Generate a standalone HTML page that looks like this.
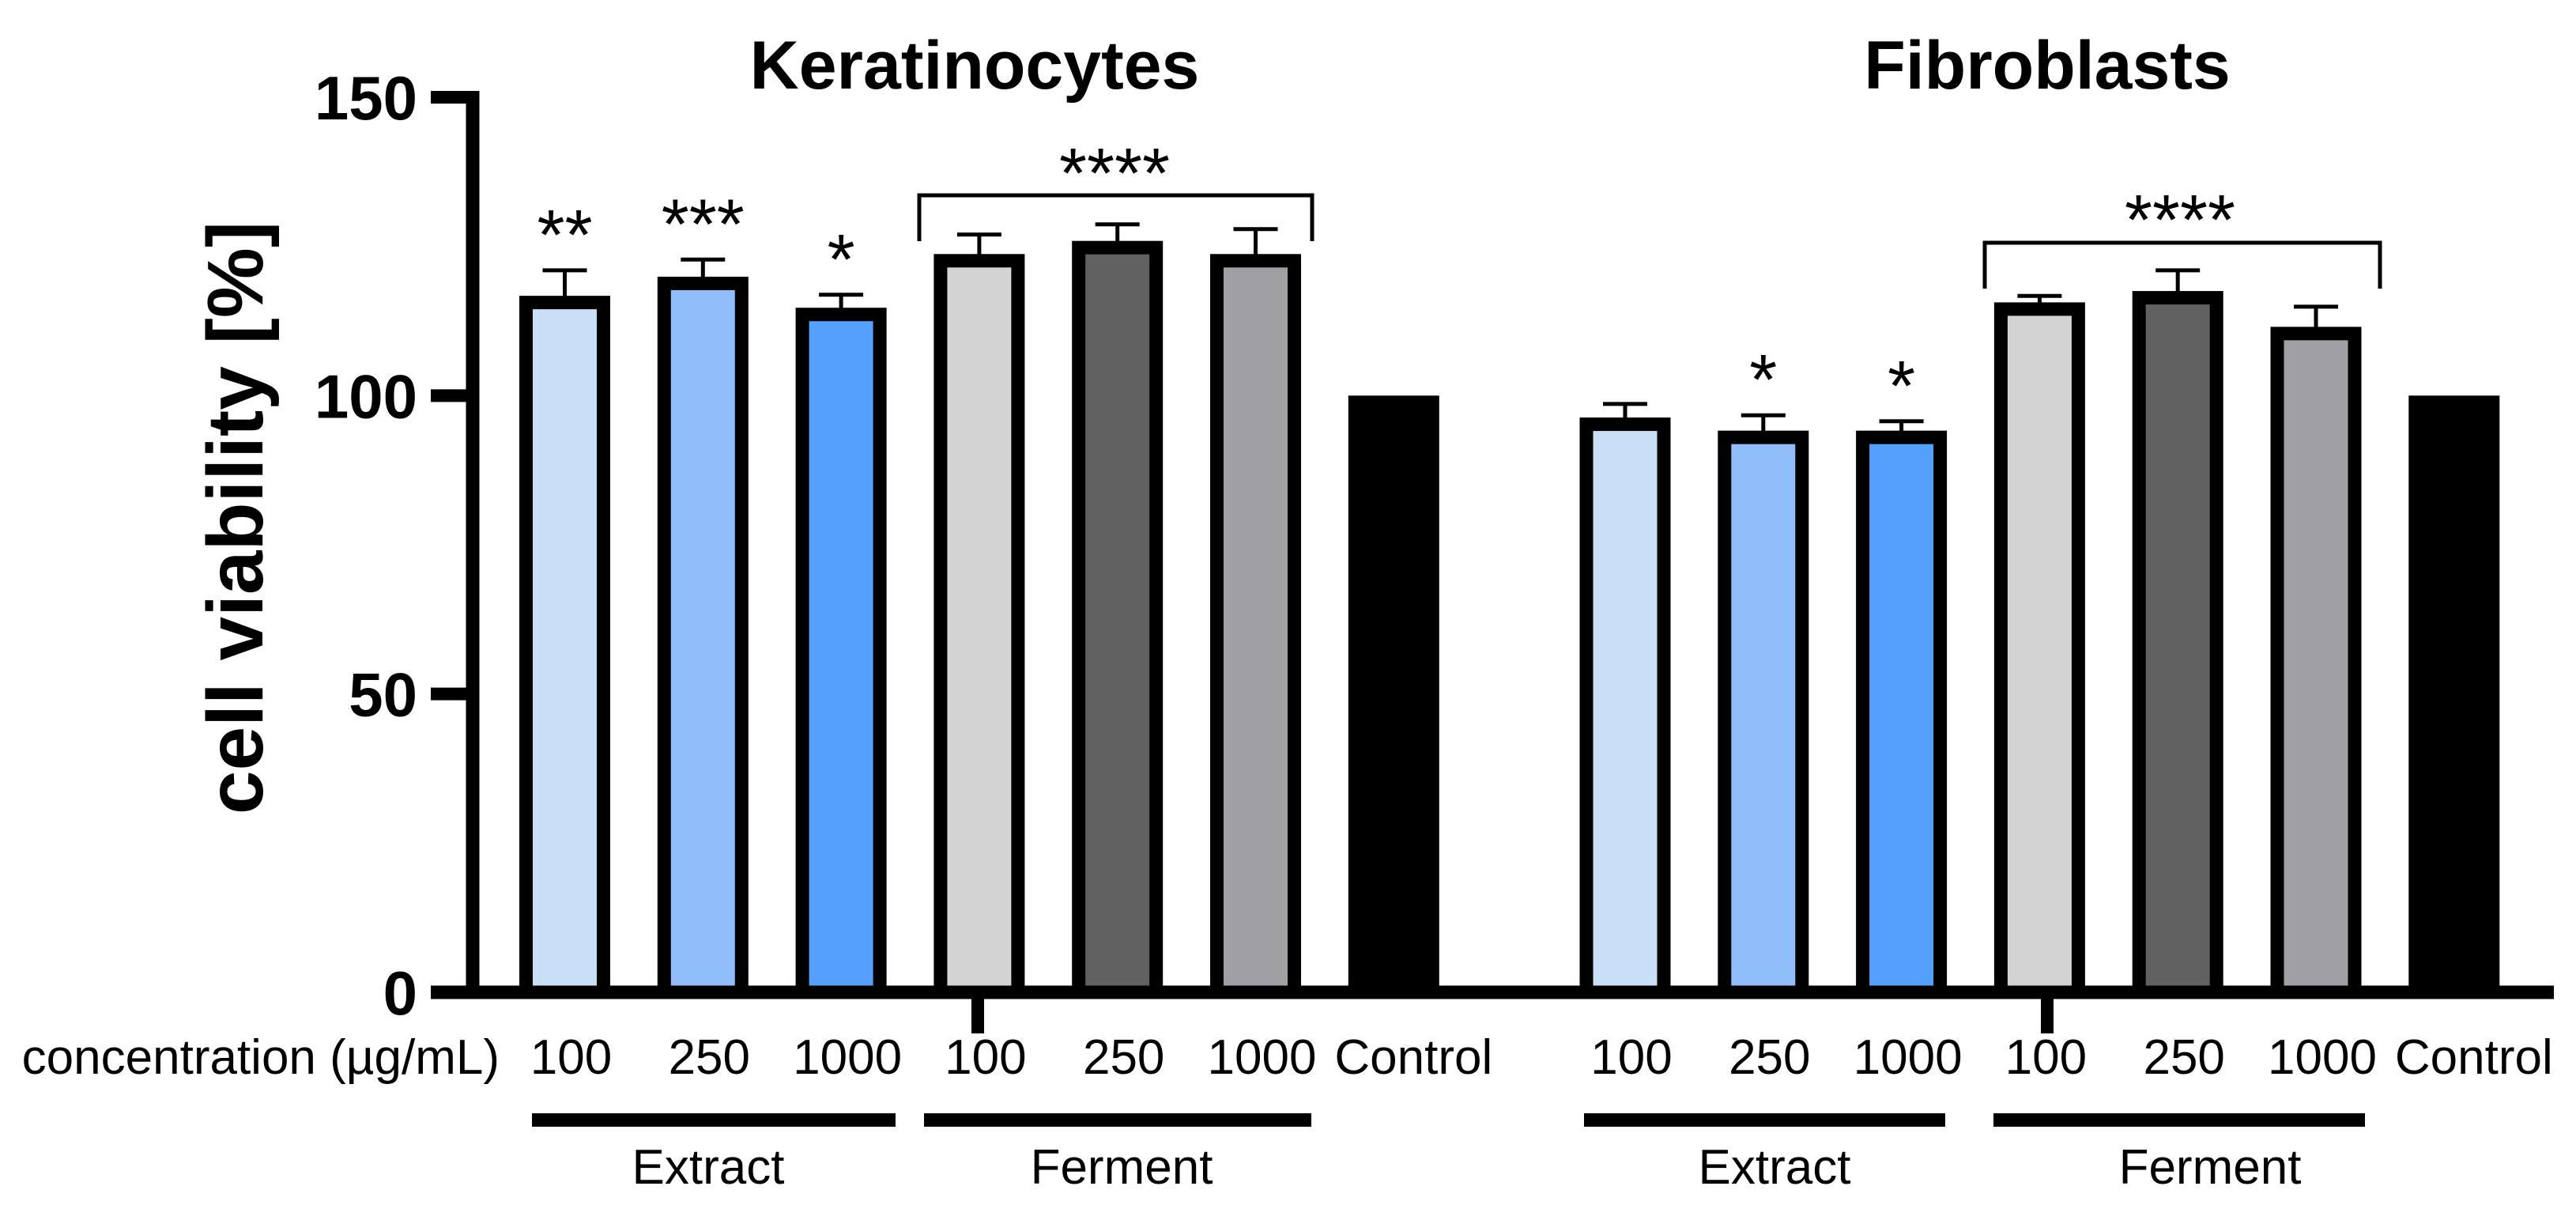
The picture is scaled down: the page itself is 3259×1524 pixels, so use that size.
<!DOCTYPE html>
<html><head><meta charset="utf-8"><style>
html,body{margin:0;padding:0;background:#fff;}
svg{display:block;font-family:"Liberation Sans",Arial,sans-serif;}
</style></head><body>
<svg id="chart" width="3259" height="1524" viewBox="0 0 3259 1524" xmlns="http://www.w3.org/2000/svg"></svg>
<script>
const categories = ["100","250","1000","100","250","1000","Control"];
const keratinocyteValues = [115.6,118.8,113.6,122.6,124.8,122.6,100];
const keratinocyteErrTops = [121,122.8,116.9,127,128.7,127.9,null];
const fibroblastValues = [95.2,93,93,114.5,116.4,110.4,100];
const fibroblastErrTops = [98.6,96.7,95.7,116.7,121,114.9,null];
const keratinocyteStars = ["**","***","*","","","",""];
const fibroblastStars = ["","*","*","","","",""];
const yTicks = [0,50,100,150];
const barColors = ["#c9dff8","#90befa","#55a0fd","#d3d3d3","#616161","#a09fa4","#000000"];

const svg = document.getElementById('chart');
const NS = "http://www.w3.org/2000/svg";
function el(tag, attrs, parent){
  const e = document.createElementNS(NS, tag);
  for (const k in attrs) e.setAttribute(k, attrs[k]);
  (parent||svg).appendChild(e);
  return e;
}
const Y0 = 1255, Y150 = 123;
function y(v){ return Y0 - v*(Y0-Y150)/150; }
const PITCH = 174.8;
function xK(i){ return 714.5 + i*PITCH; }
function xF(i){ return 2056 + i*PITCH; }
const BW = 115, BORDER = 17;

function drawPanel(name, xf, vals, errs, stars){
  const g = el('g', {});
  
  
  vals.forEach((v,i)=>{
    const cx = xf(i);
    const isCtrl = categories[i] === "Control";
    if (errs[i] != null){
      const eb = el('g', {}, g);
      
      
      el('line', {x1:cx, x2:cx, y1:y(v), y2:y(errs[i]), stroke:'#000', 'stroke-width':5}, eb);
      el('line', {x1:cx-28, x2:cx+28, y1:y(errs[i]), y2:y(errs[i]), stroke:'#000', 'stroke-width':5}, eb);
    }
    let r;
    if (isCtrl){
      r = el('rect', {x:cx-BW/2, y:y(v), width:BW, height:Y0-y(v), fill:'#000'}, g);
    } else {
      r = el('rect', {x:cx-BW/2+BORDER/2, y:y(v), width:BW-BORDER, height:Y0-y(v), fill:barColors[i], stroke:'#000', 'stroke-width':BORDER}, g);
    }
    
    
    if (stars[i]){
      const top = errs[i] != null ? y(errs[i]) : y(v);
      const t = el('text', {x:cx, y:top-14, 'text-anchor':'middle', 'font-size':90, fill:'#000'}, g);
      t.textContent = stars[i];
      
      
    }
    const lbl = el('text', {x:cx + (isCtrl?25:8), y:1358, 'text-anchor':'middle', 'font-size':62, fill:'#000'});
    lbl.textContent = categories[i];
    
    
  });
}

drawPanel('keratinocytes', xK, keratinocyteValues, keratinocyteErrTops, keratinocyteStars);
drawPanel('fibroblasts', xF, fibroblastValues, fibroblastErrTops, fibroblastStars);

const ya = el('line', {x1:598, x2:598, y1:Y150-8, y2:Y0+8, stroke:'#000', 'stroke-width':17});


const xa = el('line', {x1:545, x2:3231, y1:Y0, y2:Y0, stroke:'#000', 'stroke-width':17});


yTicks.forEach(t=>{
  const tk = el('line', {x1:545, x2:598, y1:y(t), y2:y(t), stroke:'#000', 'stroke-width':16});
  
  
  const tl = el('text', {x:528, y:y(t)+28, 'text-anchor':'end', 'font-size':78, 'font-weight':'bold', fill:'#000'});
  tl.textContent = t;
  
  
});
[1237, 2590].forEach((x,i)=>{
  const d = el('line', {x1:x, x2:x, y1:Y0, y2:1307, stroke:'#000', 'stroke-width':16});
  
  
});
</script>

<svg style="position:absolute;left:0;top:0" width="3259" height="1524" xmlns="http://www.w3.org/2000/svg" font-family="Liberation Sans, Arial, sans-serif">
  <text transform="translate(332,655) rotate(-90)" text-anchor="middle" font-size="100" font-weight="bold">cell viability [%]</text>
  <text x="1233" y="112" text-anchor="middle" font-size="86" font-weight="bold">Keratinocytes</text>
  <text x="2590" y="112" text-anchor="middle" font-size="86" font-weight="bold">Fibroblasts</text>
  <text x="632" y="1358" text-anchor="end" font-size="62">concentration (µg/mL)</text>

  <path d="M1163 305 V247 H1660 V305" fill="none" stroke="#000" stroke-width="5"/>
  <text x="1410" y="250" text-anchor="middle" font-size="90">****</text>
  <path d="M2511 365 V307 H3011 V365" fill="none" stroke="#000" stroke-width="5"/>
  <text x="2758" y="309" text-anchor="middle" font-size="90">****</text>

  <rect x="673" y="1408" width="460" height="17" fill="#000"/>
  <rect x="1169" y="1408" width="490" height="17" fill="#000"/>
  <rect x="2004" y="1408" width="457" height="17" fill="#000"/>
  <rect x="2522" y="1408" width="470" height="17" fill="#000"/>
  <text x="896" y="1497" text-anchor="middle" font-size="62">Extract</text>
  <text x="1419" y="1497" text-anchor="middle" font-size="62">Ferment</text>
  <text x="2245" y="1497" text-anchor="middle" font-size="62">Extract</text>
  <text x="2796" y="1497" text-anchor="middle" font-size="62">Ferment</text>
</svg>
</body></html>
